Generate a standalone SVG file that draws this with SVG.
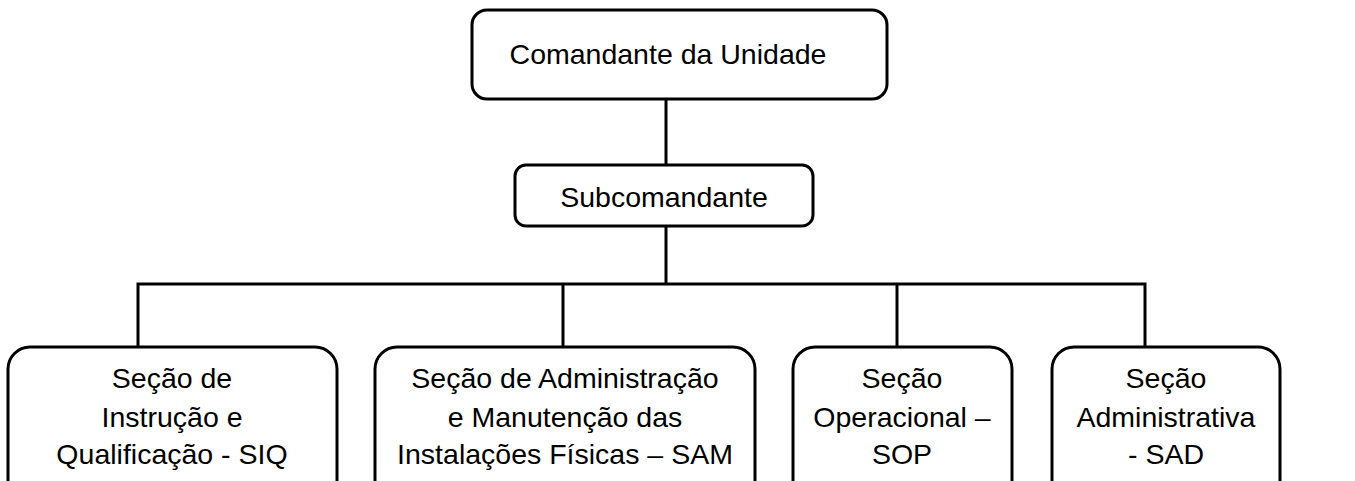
<svg xmlns="http://www.w3.org/2000/svg" width="1355" height="481" viewBox="0 0 1355 481">
<style>
.box{fill:#fff;stroke:#000;stroke-width:3}
.ln{fill:none;stroke:#000;stroke-width:3}
text{font-family:"Liberation Sans",Arial,sans-serif;font-size:28.5px;fill:#000;text-anchor:middle}
</style>
<rect width="1355" height="481" fill="#fff"/>
<g id="connectors">
<line class="ln" x1="666" y1="99" x2="666" y2="165"/>
<line class="ln" x1="666" y1="226" x2="666" y2="284"/>
<polyline class="ln" points="138,347 138,284 1145,284 1145,347"/>
<line class="ln" x1="563" y1="284" x2="563" y2="347"/>
<line class="ln" x1="897" y1="284" x2="897" y2="347"/>
</g>
<g id="n-comandante">
<rect class="box" x="472" y="10" width="415" height="89" rx="15"/>
<text x="668" y="64">Comandante da Unidade</text>
</g>
<g id="n-subcomandante">
<rect class="box" x="515" y="165" width="298" height="61" rx="11"/>
<text x="664" y="207">Subcomandante</text>
</g>
<g id="n-siq">
<rect class="box" x="8" y="347" width="329" height="160" rx="22"/>
<text x="172" y="388">Seção de</text>
<text x="172" y="427">Instrução e</text>
<text x="172" y="464">Qualificação - SIQ</text>
</g>
<g id="n-sam">
<rect class="box" x="375" y="347" width="380" height="160" rx="22"/>
<text x="565" y="388">Seção de Administração</text>
<text x="565" y="427">e Manutenção das</text>
<text x="565" y="464">Instalações Físicas – SAM</text>
</g>
<g id="n-sop">
<rect class="box" x="793" y="347" width="219" height="160" rx="22"/>
<text x="902" y="388">Seção</text>
<text x="902" y="427">Operacional –</text>
<text x="902" y="464">SOP</text>
</g>
<g id="n-sad">
<rect class="box" x="1052" y="347" width="228" height="160" rx="22"/>
<text x="1166" y="388">Seção</text>
<text x="1166" y="427">Administrativa</text>
<text x="1166" y="464">- SAD</text>
</g>
</svg>
